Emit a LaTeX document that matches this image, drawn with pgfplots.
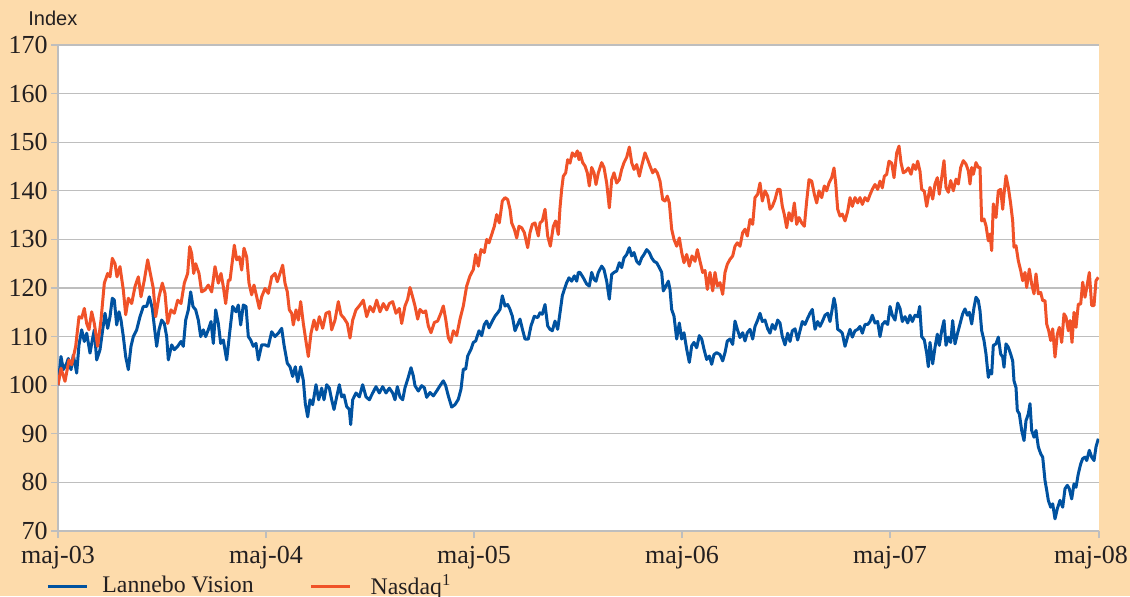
\documentclass[border=0pt]{standalone}
\usepackage{pgfplots}
\pgfplotsset{compat=1.18}
\usepackage{fontspec}
\setmainfont{Liberation Serif}
\newfontfamily\sansf{Liberation Sans}
\definecolor{peach}{RGB}{253,219,171}
\definecolor{lblue}{RGB}{0,82,160}
\definecolor{lorange}{RGB}{240,82,40}
\definecolor{gridgray}{RGB}{190,190,190}
\definecolor{txt}{RGB}{35,31,32}
\begin{document}
\begin{tikzpicture}
\useasboundingbox (-29pt,-32.5pt) rectangle (536pt,265.5pt);
\fill[peach] (-29pt,-32.5pt) rectangle (536pt,265.5pt);
\begin{axis}[
  at={(0,0)}, anchor=south west,
  scale only axis, width=520.5pt, height=243pt,
  xmin=0, xmax=260.25, ymin=70, ymax=170,
  xtick={0,52,104,156,208,260.25},
  xticklabels={maj-03,maj-04,maj-05,maj-06,maj-07,{\makebox[0pt]{\hspace{-8pt}maj-08}}},
  ytick={70,80,...,170},
  axis background/.style={fill=white},
  axis x line*=bottom, axis y line*=left,
  axis line style={-, gridgray, line width=0.6pt},
  ymajorgrids, grid style={gridgray, line width=0.6pt},
  tick align=outside, major tick length=3.5pt,
  tick style={gridgray, line width=0.6pt},
  /pgf/number format/assume math mode=true,
  ticklabel style={font=\fontsize{13}{15}\selectfont, text=txt},
  yticklabel style={inner xsep=1.5pt},
  xticklabel style={yshift=-0.5pt},
  every axis y label/.style={at={(rel axis cs:0,1)}, anchor=west, inner xsep=0pt, xshift=-15pt, yshift=13.5pt, font=\sansf\fontsize{10}{12}\selectfont, text=txt},
  ylabel={Index},
  legend columns=2,
  legend style={draw=none, fill=none, at={(0,0)}, anchor=west, xshift=-6pt, yshift=-27.5pt,
    font=\fontsize{11.9}{13}\selectfont, text=txt, inner sep=0pt,
    /tikz/every odd column/.append style={column sep=5pt},
    /tikz/every even column/.append style={column sep=26pt}},
  legend image code/.code={\draw[#1,line width=1.5pt] (0pt,0pt) -- (19.5pt,0pt);},
]
\addplot[lblue, line width=1.5pt, line join=round] coordinates {
(0,100)(0.75,105.9)(1.33,103.2)(2.17,104.5)(2.58,105.5)(3.25,103.2)(3.83,106.2)(4.67,102.5)(5.25,108.3)(5.92,111.4)
(6.58,109)(7.17,110.7)(8,106.6)(8.58,109.3)(9.08,111.4)(9.67,105.2)(10.5,107.3)(11.17,111.4)(11.75,114.8)(12.42,111.7)
(13,114.1)(13.58,117.9)(14.08,117.5)(14.67,112.4)(15.25,115.1)(15.75,113.4)(16.33,110)(16.92,105.9)(17.58,103.2)(18.25,108)
(18.83,110)(19.67,111.4)(20.5,114.1)(21.33,116.2)(22.17,116.2)(22.83,118.2)(23.58,115.8)(24.08,112.1)(24.67,108)(25.25,111.4)
(25.92,113.4)(26.58,112.7)(27.17,110)(27.58,105.2)(28.42,108.3)(29.08,107.3)(29.92,108)(30.75,109)(31.33,108)(31.92,113.4)
(32.58,115.5)(33.17,119.2)(33.75,116.2)(34.42,115.5)(35.08,113.4)(35.67,110)(36.33,111.4)(36.92,110)(37.58,111.4)(38.25,113.1)
(38.83,108.6)(39.42,115.5)(40.08,112.7)(40.67,108.6)(41.33,109.3)(42.17,105.2)
(43,111.4)(43.67,116.2)(44.5,115.1)(45.08,116.5)(45.67,112.4)(46.33,116.5)(47,116.2)(47.58,110)(48.17,109.3)(48.83,108)
(49.5,108.6)(50.08,105.2)(50.92,108.3)(51.75,108.3)(52.58,108)(53.42,111)(54.25,110)(55.08,110.7)(55.92,111.7)(56.5,108.3)
(57.33,104.5)(58,103.8)(58.67,101.8)(59.33,103.8)(59.92,100.7)(60.67,103.8)(61.33,101)(61.83,96.2)(62.42,93.5)(63,97)
(63.67,96)(64.5,100.1)(65.17,97)(65.92,99.4)(66.5,97)(67.17,100.1)(67.83,99.4)(68.42,97)(69,95)(69.67,97.6)
(70.33,100.1)(70.92,97.6)(71.5,98)(72.17,95.6)(72.83,95)(73.17,91.9)(73.67,97)(74.5,98.4)(75.33,97.6)(76.17,100.1)
(77,97.6)(77.83,97)(78.67,98.4)(79.5,99.7)(80.33,98.4)(81.17,99.7)(82,98.4)(82.83,99.4)(83.67,98.4)(84.25,97)
(84.83,99.7)(85.5,97.6)(86.17,97)
(86.75,99.5)(87.42,101.2)(88.25,103.6)(88.83,101.9)(89.25,99.9)(90.08,98.8)(90.92,99.9)(91.58,99.5)(92.17,97.5)(93,98.5)
(93.83,97.8)(94.67,98.8)(95.5,99.9)(96.33,100.9)(96.92,99.9)(97.58,97.8)(98.42,95.5)(99.25,96)(100.08,97.1)(100.75,99.2)
(101.33,103.3)(101.92,103.3)(102.42,106)(103.25,107.4)(103.83,108.8)(104.42,109.1)(105.25,111.2)(105.92,110.2)(106.58,112.5)(107.17,113.2)
(107.75,111.8)(108.58,113.2)(109.25,114.2)(109.92,114.9)(110.5,115.6)(111.08,118.4)(111.75,116.3)(112.42,116.6)(113,115.6)(113.58,114.2)
(114.25,111.2)(114.92,112.5)(115.5,113.6)(116.08,111.6)(116.75,109.5)(117.58,109.5)(118.25,112.2)(119.08,114.2)(119.92,113.9)(120.5,114.9)
(121.08,114.6)(121.75,116.6)(122.42,112.2)(123,111.5)(123.58,111.2)(124.25,113.2)(124.92,111.5)(125.5,114.9)(126.08,118.4)(126.58,119.7)
(127.17,121.1)(127.75,122.1)(128.42,121.4)(129.08,122.5)(129.67,121.4)(130.08,123.2)
(130.5,123.2)(131.33,122.1)(132.17,120.8)(132.83,120.4)(133.42,123.2)(134,121.8)(134.5,121.4)(135.08,123.2)(135.92,124.5)(136.5,123.8)
(137.17,121.4)(137.83,117.7)(138.42,122.8)(139,123.2)(139.67,123.5)(140.33,125.2)(140.92,124.2)(141.5,126.2)(142.17,126.9)(142.83,128.3)
(143.42,126.6)(144,127.3)(144.67,125.5)(145.33,124.9)(145.92,126.2)(146.5,126.9)(147.17,127.9)(147.83,127.3)(148.42,126.2)(149,125.5)
(149.67,125.2)(150.33,124.2)(150.92,123.2)(151.33,119.4)(152,120.4)(152.58,121.4)(153,119.7)(153.42,115.6)(154,114.2)(154.67,109.5)
(155.33,112.8)(155.92,109.5)(156.5,110.8)(157.17,107.4)(157.83,104.7)(158.42,108.1)(159,108.8)(159.67,107.7)(160.33,110.2)(160.92,109.5)
(161.5,107.4)(162.17,105.3)(162.83,106)(163.42,104.3)(164,106.3)(164.67,106.7)(165.5,106.3)(166.17,105)(166.75,106.7)(167.33,109.1)
(168,109.5)(168.67,108.4)(169.25,113.2)(169.83,111.5)(170.5,109.8)(171.17,110.8)(171.75,109.1)(172.33,110.8)(173,111.5)(173.67,109.5)
(174.25,112.1)(174.92,113.4)(175.5,114.8)(176.08,113.1)(176.75,113.4)(177.42,111.6)(178,110.7)(178.58,112.5)(179.25,111.5)(179.92,113.4)
(180.5,112.8)(181.08,110)(181.75,108.3)(182.42,110.7)(183,109)(183.58,111.2)(184.25,111.6)(184.92,109.3)(185.5,111.2)(186.08,113.1)
(186.75,112.5)(187.42,113.8)(188,114.8)(188.58,115.6)(189.25,111.5)(189.92,113.1)(190.5,112.1)(191.08,113.1)(191.75,114.4)(192.42,114.8)
(193,113.1)(193.58,115.8)(194,117.9)(194.42,116.2)(194.92,111.5)(195.5,111.2)(196.08,110.7)(196.75,108)(197.42,110)(198,111.5)
(198.58,109.9)(199.25,111.2)(199.92,111.5)(200.5,112.1)(201.08,110.7)(201.75,112.5)(202.42,112.5)(203,113.1)(203.58,114.4)(204.25,112.8)
(204.92,113.1)(205.5,110)(206.08,112.5)(206.75,113.1)(207.42,112.5)(208,116.2)(208.58,114.4)(209.25,113.4)(209.92,116.9)(210.5,115.8)
(211.08,113.1)(211.75,114.1)(212.42,112.8)(213,114.4)(213.58,113.1)(214.25,114.4)(214.92,114.1)(215.42,116.2)(215.92,110)(216.58,109.3)
(217.17,106.6)(217.58,103.8)
(218,108.8)(218.67,104.4)(219.25,107.8)(219.83,110.5)(220.33,108.2)(220.92,111.2)(221.5,113.3)(222,108.2)(222.58,109.9)(223.17,108.8)
(223.67,113.3)(224.25,108.5)(224.83,110.5)(225.5,112.6)(226.17,114.7)(226.75,115.7)(227.33,114.4)(227.83,115)(228.42,112.6)(229,116)
(229.5,118.1)(230.08,117.4)(230.5,115.3)(230.92,111.2)(231.5,109.2)(232,106.4)(232.58,101.6)(233,103)(233.42,102.3)(233.83,108.2)
(234.5,108.5)(235.08,109.9)(235.67,106.4)(236.17,105.8)(236.5,103.7)(237,108.5)(237.58,107.8)(238.17,106.4)(238.67,105)(239,100.9)
(239.5,99.5)(239.83,94.8)(240.33,94.1)(240.92,90.7)(241.5,88.6)(242,92.7)(242.58,94.1)(243,96.2)(243.42,90.7)(244,89.3)
(244.5,90.7)(245.08,87.3)(245.67,85.9)(246.17,85.2)(246.75,80.4)(247.17,78.4)(247.58,76.3)(248.17,74.9)(248.67,75.6)(249.25,72.5)
(249.83,74.6)(250.5,76.3)(251.17,74.9)(251.75,78.7)(252.33,79.4)(252.83,78.7)(253.42,76.6)(254,79.7)(254.5,79)(255.08,81.8)
(255.67,83.8)(256.17,84.9)(256.75,85.2)(257.17,84.5)(257.83,86.6)(258.42,85.2)(259,84.5)(259.5,87.3)(260.08,89)
};
\addlegendentry{Lannebo Vision}
\addplot[lorange, line width=1.5pt, line join=round] coordinates {
(0,100)(0.75,103.5)(1.75,100.8)(2.75,105.2)(3.42,104.2)(4.42,108)(5.25,114.1)(5.92,113.8)(6.58,115.8)(7.17,112.7)
(7.75,111.4)(8.42,115.1)(9.08,112.7)(9.92,108)(10.75,113.4)(11.58,121)(12.42,123)(13,122.3)(13.58,126.1)(14.25,125)
(14.75,122.3)(15.5,124.4)(16.33,119.6)(16.92,114.5)(17.58,117.9)(18.42,116.8)(19.25,120.3)(20.08,122.3)(20.75,118.2)(21.58,121.6)
(22.42,125.8)(23.25,122.3)(23.83,119.9)(24.42,114.1)(25.25,118.2)(26.08,121)(26.75,118.9)(27.42,112.7)(28.25,115.5)(29.08,114.8)
(29.92,117.5)(30.75,116.8)(31.58,121)(32.42,123)(32.92,128.5)(33.42,127.1)(33.92,123)(34.42,125)(35.25,123)(35.92,119.2)
(36.75,119.6)(37.58,120.6)(38.42,119.2)(39.25,124.4)(40.08,121)(40.75,123)(41.33,120.3)(41.92,116.8)(42.58,121.6)
(43,121.6)(44.08,128.8)(44.67,125.8)(45.33,126.4)(45.92,123.7)(46.5,128.2)(47.17,126.4)(47.75,121)(48.42,118.6)(49,120.6)
(49.67,118.2)(50.33,115.8)(50.92,118.2)(51.75,119.9)(52.58,118.9)(53.42,122.3)(54.25,123)(54.83,121.3)(55.5,123)(56.17,124.7)
(56.75,121)(57.33,119.2)(57.83,115.5)(58.42,114.8)(58.83,112.4)(59.5,115.5)(60.08,113.4)(60.67,117.2)(61.33,112.7)(62,109)
(62.58,105.9)(63.25,110.7)(64,113.4)(64.67,111.4)(65.33,114.1)(66.17,111.7)(67,114.8)(67.83,115.1)(68.42,111.4)(69.25,113.4)
(70.08,117.2)(70.75,114.5)(71.5,113.8)(72.33,112.7)(73,109.7)(73.67,113.4)(74.5,115.5)(75.5,116.5)(76.33,117.5)(77.17,114.1)
(78,116.2)(78.83,115.1)(79.67,117.5)(80.5,115.1)(81.33,116.8)(82.17,115.5)(82.83,116.8)(83.67,117.2)(84.5,114.8)(85.33,115.8)
(85.92,112.7)
(86.75,116.3)(87.42,117.7)(88,120.1)(88.58,118.4)(89.25,116.3)(89.92,113.6)(90.5,115.6)(91.33,114.9)(91.92,115.3)(92.58,112.2)
(93.25,110.8)(94.08,112.9)(94.92,113.2)(95.75,114.9)(96.33,116.3)(96.92,113.6)(97.58,109.8)(98.17,108.8)(98.83,111.2)(99.67,110.2)
(100.5,113.6)(101.33,116.3)(102.17,120.4)(103,122.5)(103.83,123.8)(104.42,126.9)(105.08,124.5)(105.75,127.9)(106.58,127.3)(107.17,130)
(107.75,129.3)(108.42,131)(109.08,132.7)(109.67,135.1)(110.33,133.4)(111.08,137.9)(111.75,138.6)(112.42,138.2)(113,136.2)(113.42,133.4)
(114.08,132.1)(114.67,130.3)(115.25,132.7)(115.92,132.4)(116.58,131.4)(117.42,128.3)(118,131.4)(118.58,133.1)(119.25,133.4)(120.08,130.7)
(120.5,133.4)(121.08,133.8)(121.75,136.2)(122.42,130.7)(123.08,128.6)(123.83,132.7)(124.42,133.8)(125.08,131)(125.5,136.5)(125.92,140.3)
(126.33,143)(126.92,143.7)(127.42,146.4)(128,145.7)(128.58,147.8)(129.25,147.1)(129.83,148.2)(130.25,146.4)
(130.5,147.8)(131.17,145.8)(131.75,145.1)(132.33,143.7)(132.83,141)(133.42,144.8)(134,143.7)(134.5,141.3)(135.08,143.7)(135.92,145.8)
(136.5,144.8)(137.17,141.6)(137.83,136.5)(138.42,142.3)(139,143.7)(139.67,141.6)(140.33,142.3)(140.92,144.4)(141.5,145.8)(142.17,146.9)
(142.83,149)(143.42,145.8)(144,144.4)(144.67,145.4)(145.33,143)(145.92,145.1)(146.75,147.8)(147.42,146.4)(148,145.1)(148.67,143.7)
(149.25,144.4)(149.83,143.7)(150.5,142)(151.17,138.2)(151.75,137.9)(152.33,138.9)(152.83,137.5)(153.42,132.1)(154,130)(154.67,128.6)
(155.33,130.3)(155.92,127.3)(156.5,125.2)(157.17,126.9)(157.83,124.5)(158.5,126.6)(159.25,125.5)(159.83,127.9)(160.5,125.5)(161.17,123.2)
(161.75,123.6)(162.33,119.7)(163,123.2)(163.67,119.4)(164.25,123.2)(164.83,120.4)(165.5,121.1)(166.17,118.7)(166.75,123.2)(167.33,124.9)
(168,125.9)(168.67,126.6)(169.25,128.6)(169.83,129.3)(170.5,128.6)(171.17,131.4)(171.75,132.1)(172.33,130.7)(173,134.1)(173.67,133.1)
(174.25,138.6)(174.92,139.3)(175.5,141.6)(176.08,137.9)(176.75,140)(177.42,138.9)(178,136.2)(178.58,136.8)(179.25,138.2)(179.92,140.3)
(180.5,140.3)(181.08,136.8)(181.58,135.1)(182.17,132.4)(182.75,135.5)(183.42,133.8)(184.08,137.5)(184.67,133.1)(185.25,134.5)(185.92,133.4)
(186.58,132.7)(187.17,137.9)(187.75,142.3)(188.42,142)(189.08,139.3)(189.67,137.5)(190.25,140)(190.92,138.6)(191.58,141)(192.17,140)
(192.75,141.6)(193.42,142.7)(194,144.7)(194.42,141.6)(194.92,136.2)(195.5,134.8)(196.08,135.2)(196.75,133.8)(197.42,135.8)(198,138.6)
(198.58,136.8)(199.25,138.6)(199.92,137.5)(200.5,138.6)(201.08,137.2)(201.75,138.6)(202.42,137.9)(203,139.2)(203.58,140.3)(204.25,141.3)
(204.92,140.3)(205.5,142)(206.08,140.6)(206.58,143)(207.17,143.4)(207.75,146.1)(208.42,145.7)(209,142.7)(209.67,147.8)(210.25,149.2)
(210.75,145.8)(211.33,143.7)(211.92,144)(212.58,144.7)(213.25,143.4)(213.83,145.4)(214.42,144.4)(214.92,146.1)(215.5,144)(215.92,140.3)
(216.58,139.9)(217.17,136.8)
(218,140.7)(218.67,138.3)(219.25,141.4)(219.83,142.7)(220.33,139.3)(220.92,142.7)(221.5,146.2)(222,140.7)(222.58,139.7)(223.17,142.1)
(223.83,140)(224.5,142.4)(225.08,141.4)(225.67,144.8)(226.33,146.2)(227,145.5)(227.58,144.1)(228,141.4)(228.42,144.8)(228.83,143.4)
(229.5,145.8)(230.08,144.8)(230.5,144.8)(230.92,133.8)(231.5,134.2)(232,132.8)(232.58,129.7)(233,131.1)(233.42,127.7)(233.83,137.3)
(234.5,134.5)(235.08,140)(235.67,140.3)(236.17,136.2)(236.5,139.3)(237,143.1)(237.58,140.7)(238.17,137.3)(238.67,133.8)(239,128.4)
(239.5,128.7)(240.08,125.6)(240.67,123.6)(241.17,121.5)(241.75,123.2)(242.17,120.1)(242.83,123.9)(243.42,120.8)(244,118.8)(244.5,122.9)
(245.08,118.8)(245.67,119.1)(246.17,117.4)(246.75,117.4)(247.17,112.6)(247.67,111.2)(248.17,109.2)(248.67,111.6)(249.25,105.8)(249.83,110.5)
(250.33,111.9)(250.92,108.8)(251.5,114.7)(252,114)(252.58,111.2)(253,113.3)(253.5,108.8)(254,115)(254.5,111.9)(255.08,116.7)
(255.67,116.7)(256.17,121.2)(256.75,118.1)(257.33,120.8)(257.83,123.2)(258.42,116.4)(259,116.4)(259.5,121.5)(260.08,122.2)
};
\addlegendentry{\hspace{2.5pt}Nasdaq\textsuperscript{1}}
\end{axis}
\end{tikzpicture}
\end{document}
